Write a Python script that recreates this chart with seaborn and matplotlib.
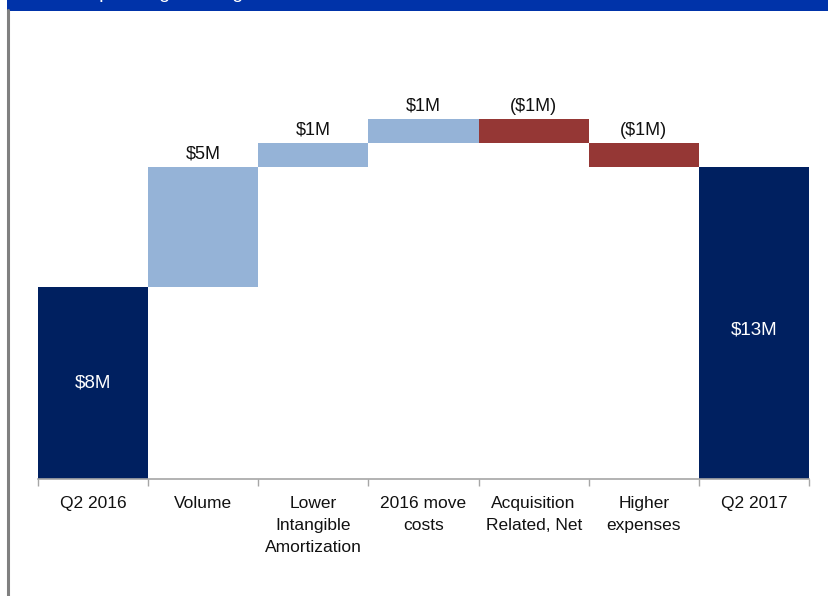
import matplotlib
matplotlib.use("Agg")
import matplotlib.pyplot as plt
import seaborn as sns
import numpy as np
import pandas as pd
from matplotlib.patches import Rectangle
from matplotlib.lines import Line2D

# --- Data ---
categories = ["Q2 2016", "Volume", "Lower\nIntangible\nAmortization", "2016 move\ncosts",
              "Acquisition\nRelated, Net", "Higher\nexpenses", "Q2 2017"]
changes = [8, 5, 1, 1, -1, -1, 13]
kinds = ["total", "up", "up", "up", "down", "down", "total"]
labels = ["$8M", "$5M", "$1M", "$1M", "($1M)", "($1M)", "$13M"]

# --- Style ---
sns.set_style("white")
plt.rcParams["font.family"] = ["Liberation Sans", "DejaVu Sans"]

NAVY = "#002060"
LIGHT = "#95B3D7"
RED = "#953735"
colors = {"total": NAVY, "up": LIGHT, "down": RED}

# running totals -> bottoms / heights
bottoms, heights = [], []
running = 0
for c, k in zip(changes, kinds):
    if k == "total":
        bottoms.append(0)
        heights.append(c)
        running = c
    elif c >= 0:
        bottoms.append(running)
        heights.append(c)
        running += c
    else:
        running += c
        bottoms.append(running)
        heights.append(-c)

df = pd.DataFrame({"cat": categories, "height": heights, "bottom": bottoms, "kind": kinds})

fig = plt.figure(figsize=(8.29, 5.96), dpi=100)
ax = fig.add_axes([38 / 829, 1 - 479 / 596, (809 - 38) / 829, (479 - 47) / 596])

sns.barplot(data=df, x="cat", y="height", bottom=df["bottom"].to_numpy(),
            width=1.0, errorbar=None, color=LIGHT, linewidth=0, ax=ax)
for patch, k in zip(ax.patches, kinds):
    patch.set_facecolor(colors[k])
    patch.set_edgecolor("none")

ax.set_xlim(-0.5, len(categories) - 0.5)
ax.set_ylim(0, 18)

# value labels
for i, (b, h, k, lab) in enumerate(zip(bottoms, heights, kinds, labels)):
    if k == "total":
        ax.annotate(lab, xy=(i, b + h / 2), xytext=(0, -5 if h > 10 else 0),
                    textcoords="offset points", ha="center", va="center",
                    color="white", fontsize=13.5)
    else:
        ax.annotate(lab, xy=(i, b + h), xytext=(0, 3), textcoords="offset points",
                    ha="center", va="bottom", color="#111111", fontsize=13)

# axes styling
for s in ["top", "right", "left"]:
    ax.spines[s].set_visible(False)
ax.spines["bottom"].set_color("#a6a6a6")
ax.spines["bottom"].set_linewidth(1.2)
ax.set_yticks([])
ax.set_xticks(np.arange(-0.5, len(categories), 1.0))
ax.set_xticklabels([])
ax.tick_params(axis="x", which="major", direction="out", length=5, width=1, color="#a6a6a6", bottom=True)
ax.set_xticks(np.arange(len(categories)), minor=True)
ax.set_xticklabels(categories, minor=True, fontsize=12.5, color="#111111", linespacing=1.6, va="top")
ax.tick_params(axis="x", which="minor", length=0, pad=12)
ax.set_xlabel("")
ax.set_ylabel("")

# slide frame: title banner and left border
fig.add_artist(Rectangle((7 / 829, 1 - 10.5 / 596), 1, 10.5 / 596, transform=fig.transFigure,
                         facecolor="#0033a9", edgecolor="none", zorder=5))
fig.add_artist(Line2D([8 / 829, 8 / 829], [0, 1 - 10 / 596], transform=fig.transFigure,
                      color="#808080", linewidth=2.2, zorder=5))
fig.text(84 / 829, 1 + 1.5 / 596, "Operating Earnings", color="white", fontsize=14,
         ha="left", va="baseline", zorder=6)

fig.savefig("out.png", dpi=100)
